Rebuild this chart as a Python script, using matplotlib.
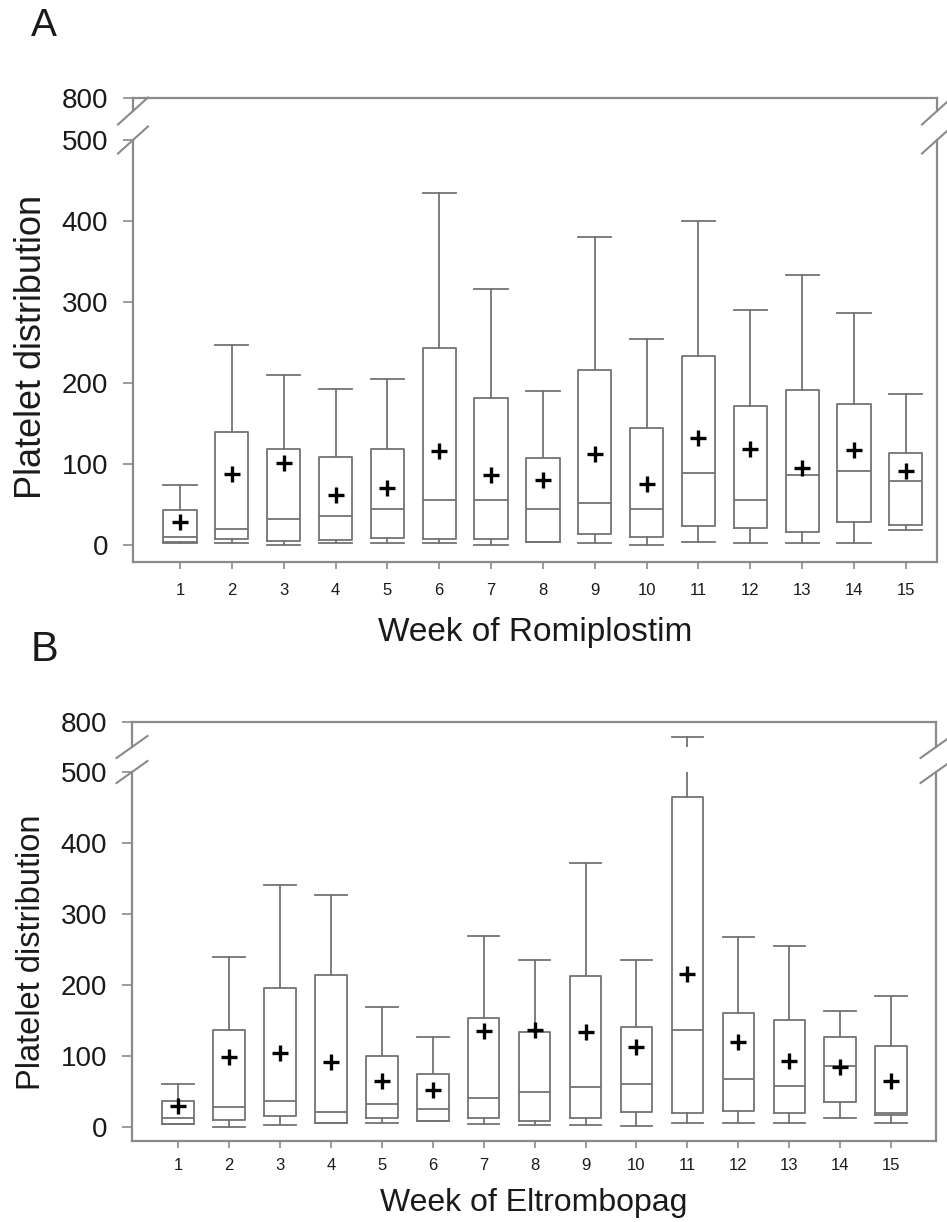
import matplotlib
matplotlib.use("Agg")
import matplotlib.pyplot as plt
from matplotlib.lines import Line2D

plt.rcParams['font.family'] = ['Liberation Sans', 'DejaVu Sans']

weeks = list(range(1, 16))
week_labels = [str(w) for w in weeks]

# Panel A: Romiplostim
a_whislo = [2, 2, 0, 2, 2, 2, 0, 4, 2, 0, 4, 2, 2, 3, 19]
a_q1     = [4, 7, 5, 6, 9, 7, 7, 4, 14, 10, 24, 21, 16, 28, 25]
a_med    = [10, 20, 32, 36, 45, 55, 55, 45, 52, 44, 89, 56, 87, 91, 79]
a_q3     = [43, 139, 119, 109, 118, 243, 181, 108, 216, 145, 233, 172, 191, 174, 114]
a_whishi = [74, 247, 210, 193, 205, 435, 316, 190, 380, 254, 400, 290, 333, 287, 187]
a_mean   = [28, 88, 101, 62, 70, 116, 87, 80, 112, 75, 132, 118, 95, 117, 91]

# Panel B: Eltrombopag
b_whislo = [4, 0, 2, 5, 5, 8, 4, 3, 3, 1, 6, 5, 6, 12, 6]
b_q1     = [4, 9, 15, 6, 13, 8, 13, 8, 13, 21, 19, 22, 20, 35, 17]
b_med    = [12, 28, 37, 21, 32, 25, 40, 49, 56, 61, 137, 67, 58, 86, 20]
b_q3     = [36, 137, 196, 214, 100, 74, 154, 134, 212, 141, 465, 160, 151, 127, 114]
b_whishi = [61, 240, 341, 326, 169, 127, 269, 235, 372, 235, 710, 268, 255, 163, 185]
b_mean   = [29, 98, 104, 92, 65, 52, 135, 136, 133, 112, 216, 119, 93, 84, 65]

W, H = 947, 1222
fig = plt.figure(figsize=(W / 100, H / 100), dpi=100)

GRAY = '#737373'
FRAME = '#8a8a8a'
TXT = '#1a1a1a'


def rect(l, t, r, b):
    return [l / W, 1 - b / H, (r - l) / W, (b - t) / H]


def make_stats(wlo, q1, med, q3, whi, mean):
    return [dict(whislo=a, q1=b, med=c, q3=d, whishi=e, mean=f, fliers=[])
            for a, b, c, d, e, f in zip(wlo, q1, med, q3, whi, mean)]


def draw_boxes(ax, stats, width):
    lp = dict(color=GRAY, linewidth=1.3)
    ax.bxp(stats, positions=weeks, widths=width, capwidths=width,
           showmeans=True, showfliers=False, patch_artist=False,
           boxprops=lp, medianprops=lp, whiskerprops=lp, capprops=lp,
           meanprops=dict(marker='+', markersize=12, markeredgewidth=2.4,
                          markeredgecolor='black', linestyle='none'))


def panel(lower_r, upper_r, xlim, ylim_low, ylim_up, stats, width,
          xlabel, xlab_size, xpad, xlabpad, slash_dx, slash_dy, ylab_size):
    axl = fig.add_axes(rect(*lower_r))
    axu = fig.add_axes(rect(*upper_r))
    for ax in (axl, axu):
        draw_boxes(ax, stats, width)
        ax.set_xlim(*xlim)
        for s in ax.spines.values():
            s.set_color(FRAME)
            s.set_linewidth(1.6)
        ax.tick_params(axis='y', direction='out', length=7, width=1.2,
                       color=FRAME, labelsize=20, labelcolor=TXT, pad=11)
    axl.set_ylim(*ylim_low)
    axu.set_ylim(*ylim_up)
    axl.spines['top'].set_visible(False)
    axu.spines['bottom'].set_visible(False)
    axl.set_yticks([0, 100, 200, 300, 400, 500])
    axu.set_yticks([800])
    axu.set_xticks([])
    axl.set_xticks(weeks)
    axl.set_xticklabels(week_labels)
    axl.tick_params(axis='x', direction='out', length=5, width=1.2,
                    color=FRAME, labelsize=12, labelcolor=TXT, pad=xpad)
    axl.set_xlabel(xlabel, fontsize=xlab_size, color=TXT, labelpad=xlabpad)
    # break slashes
    l, t, r, b = lower_r
    yb_low = lower_r[1]
    yb_up = upper_r[3]
    for xs in (l, r):
        for yb in (yb_low, yb_up):
            x0, x1 = (xs - slash_dx / 2) / W, (xs + slash_dx / 2) / W
            y0, y1 = 1 - (yb + slash_dy / 2) / H, 1 - (yb - slash_dy / 2) / H
            fig.add_artist(Line2D([x0, x1], [y0, y1], color=FRAME,
                                  linewidth=1.5, transform=fig.transFigure))
    # y label
    fig.text(32 / W, 1 - ((lower_r[1] + lower_r[3]) / 2 - 4) / H,
             'Platelet distribution', rotation=90, ha='center', va='center',
             fontsize=ylab_size, color=TXT)
    return axl, axu


statsA = make_stats(a_whislo, a_q1, a_med, a_q3, a_whishi, a_mean)
statsB = make_stats(b_whislo, b_q1, b_med, b_q3, b_whishi, b_mean)

panel((133, 140, 937, 562), (133, 98, 937, 111), (0.094, 15.6),
      (-21, 500), (710, 800), statsA, 0.64, 'Week of Romiplostim', 24, 10, 14,
      30, 27, 26)
panel((132, 772, 936, 1141), (132, 722, 936, 747), (0.096, 15.88),
      (-20, 500), (650, 800), statsB, 0.62, 'Week of Eltrombopag', 23, 7, 11,
      31, 22, 23.5)

fig.text(31 / W, 1 - 26 / H, 'A', fontsize=28, color=TXT, ha='left', va='center')
fig.text(31 / W, 1 - 650 / H, 'B', fontsize=30, color=TXT, ha='left', va='center')

fig.savefig('out.png', dpi=100)
